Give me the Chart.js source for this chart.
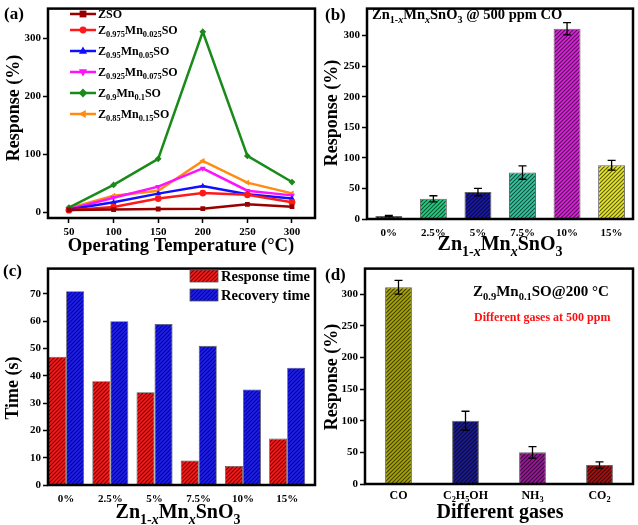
<!DOCTYPE html>
<html><head><meta charset="utf-8">
<script src="https://cdn.jsdelivr.net/npm/chart.js@4/dist/chart.umd.min.js"></script>
<style>
body{margin:0;background:#fff;width:638px;height:525px;position:relative;overflow:hidden}
canvas{position:absolute;display:block}
</style></head><body>
<canvas id="ca" width="319" height="260" style="left:0;top:0"></canvas>
<canvas id="cb" width="319" height="260" style="left:319px;top:0"></canvas>
<canvas id="cc" width="319" height="265" style="left:0;top:260px"></canvas>
<canvas id="cd" width="319" height="265" style="left:319px;top:260px"></canvas>
<script>
// ---------- DATA ----------
const temps = [50, 100, 150, 200, 250, 300];
const zsoResp     = [4, 4.5, 5.5, 6, 13.5, 9.5];
const z0975Resp   = [3.5, 9, 23.5, 33, 30, 17];
const z095Resp    = [4.5, 17, 32, 45, 31, 23.5];
const z0925Resp   = [5, 25, 44, 75.5, 37, 29];
const z09Resp     = [8, 47, 92, 311, 97, 52];
const z085Resp    = [7, 28.5, 37, 88.5, 51, 32.5];

const dopingLabels = ['0%', '2.5%', '5%', '7.5%', '10%', '15%'];
const coResponse   = [5, 33, 44, 76, 311, 88];
const coRespErr    = [1, 5, 6, 11, 10, 8];

const responseTime = [47, 38, 34, 9, 7, 17];
const recoveryTime = [71, 60, 59, 51, 35, 43];

const gasLabels    = ['CO', 'C2H5OH', 'NH3', 'CO2'];
const gasResponse  = [311, 100, 50, 30];
const gasErr       = [11, 15, 9, 5];

// ---------- HELPERS ----------
const FAM = '"Liberation Serif", "Times New Roman", serif';
Chart.defaults.font.family = FAM;
Chart.defaults.font.weight = 'bold';
Chart.defaults.color = '#000';
Chart.defaults.animation = false;

function fnt(sz, it){ return (it?'italic ':'') + 'bold ' + sz + 'px ' + FAM; }
function richWidth(ctx, segs, size){
  let w = 0;
  for (const [t, f=''] of segs){
    const sub = f.includes('s'); const sz = sub ? size*0.7 : size;
    ctx.font = fnt(sz, f.includes('i')); w += ctx.measureText(t).width;
  }
  return w;
}
function drawRich(ctx, segs, x, y, size, align, color){
  const w = richWidth(ctx, segs, size);
  let cx = align === 'center' ? x - w/2 : align === 'right' ? x - w : x;
  ctx.fillStyle = color || '#000'; ctx.textBaseline = 'alphabetic'; ctx.textAlign = 'left';
  for (const [t, f=''] of segs){
    const sub = f.includes('s'); const sz = sub ? size*0.7 : size;
    ctx.font = fnt(sz, f.includes('i'));
    ctx.fillText(t, cx, y + (sub ? size*0.28 : 0));
    cx += ctx.measureText(t).width;
  }
}
function drawRotated(ctx, segs, x, y, size){
  ctx.save(); ctx.translate(x, y); ctx.rotate(-Math.PI/2);
  drawRich(ctx, segs, 0, 0, size, 'center'); ctx.restore();
}
function hatch(color){
  const c = document.createElement('canvas'); c.width = c.height = 4;
  const g = c.getContext('2d');
  g.fillStyle = color; g.fillRect(0,0,4,4);
  g.strokeStyle = 'rgba(0,0,0,0.62)'; g.lineWidth = 1.1;
  g.beginPath();
  g.moveTo(0,4); g.lineTo(4,0);
  g.moveTo(-1,1); g.lineTo(1,-1);
  g.moveTo(3,5); g.lineTo(5,3);
  g.stroke();
  return g.createPattern(c, 'repeat');
}
function frame(chart){
  const {ctx, chartArea:a} = chart;
  ctx.save(); ctx.strokeStyle = '#000'; ctx.lineWidth = 2.5;
  ctx.strokeRect(a.left, a.top, a.right - a.left, a.bottom - a.top); ctx.restore();
}
function errBars(chart, vals, errs, half){
  const {ctx, scales:{x, y}} = chart;
  ctx.save(); ctx.strokeStyle = '#000'; ctx.lineWidth = 1.3;
  vals.forEach((v, i) => {
    const px = x.getPixelForValue(i), t = y.getPixelForValue(v + errs[i]), b = y.getPixelForValue(v - errs[i]);
    ctx.beginPath();
    ctx.moveTo(px, t); ctx.lineTo(px, b);
    ctx.moveTo(px - half, t); ctx.lineTo(px + half, t);
    ctx.moveTo(px - half, b); ctx.lineTo(px + half, b);
    ctx.stroke();
  });
  ctx.restore();
}
function drawMarker(ctx, style, x, y, r, color){
  ctx.save(); ctx.fillStyle = color; ctx.beginPath();
  if (style === 'rect') ctx.rect(x - r, y - r, 2*r, 2*r);
  else if (style === 'circle') ctx.arc(x, y, r, 0, Math.PI*2);
  else if (style === 'rectRot'){ ctx.moveTo(x, y-r*1.3); ctx.lineTo(x+r*1.3, y); ctx.lineTo(x, y+r*1.3); ctx.lineTo(x-r*1.3, y); }
  else {
    const rot = style === 'tri' ? 0 : style === 'triDown' ? 180 : -90;
    ctx.translate(x, y); ctx.rotate(rot*Math.PI/180);
    ctx.moveTo(0, -r*1.3); ctx.lineTo(r*1.2, r*0.8); ctx.lineTo(-r*1.2, r*0.8);
  }
  ctx.closePath(); ctx.fill(); ctx.restore();
}
function axisX(min, max, tickVals, labelFn, opts){
  return Object.assign({
    type: 'linear', min, max, offset: false,
    afterBuildTicks: s => { s.ticks = tickVals.map(v => ({value: v})); },
    ticks: {autoSkip: false, maxRotation: 0, font: {size: 11, weight: 'bold'}, color: '#000', callback: labelFn, padding: 3},
    grid: {display: true, drawOnChartArea: false, tickLength: 5, tickWidth: 1.5, tickColor: '#000'},
    border: {display: false}
  }, opts || {});
}
function axisY(min, max, tickVals, opts){
  return Object.assign({
    type: 'linear', min, max,
    afterBuildTicks: s => { s.ticks = tickVals.map(v => ({value: v})); },
    ticks: {font: {size: 11, weight: 'bold'}, color: '#000', padding: 2},
    grid: {display: true, drawOnChartArea: false, tickLength: 5, tickWidth: 1.5, tickColor: '#000'},
    border: {display: false}
  }, opts || {});
}
const barGrid = {display: false, drawTicks: false, offset: false};

// ---------- (a) ----------
const aSeries = [
  {name: [['ZSO']], data: zsoResp, color: '#990000', ps: 'rect', rot: 0, mk: 'rect'},
  {name: [['Z'],['0.975','s'],['Mn'],['0.025','s'],['SO']], data: z0975Resp, color: '#ff1a1a', ps: 'circle', rot: 0, mk: 'circle'},
  {name: [['Z'],['0.95','s'],['Mn'],['0.05','s'],['SO']], data: z095Resp, color: '#1010ff', ps: 'triangle', rot: 0, mk: 'tri'},
  {name: [['Z'],['0.925','s'],['Mn'],['0.075','s'],['SO']], data: z0925Resp, color: '#ff10ff', ps: 'triangle', rot: 180, mk: 'triDown'},
  {name: [['Z'],['0.9','s'],['Mn'],['0.1','s'],['SO']], data: z09Resp, color: '#1a8a1a', ps: 'rectRot', rot: 0, mk: 'rectRot'},
  {name: [['Z'],['0.85','s'],['Mn'],['0.15','s'],['SO']], data: z085Resp, color: '#ff8c10', ps: 'triangle', rot: -90, mk: 'triLeft'}
];
(function(){
  const L = 48, R = 315, T = 3, B = 218, W = 319, H = 260;
  new Chart(document.getElementById('ca'), {
    type: 'line',
    data: {datasets: aSeries.map(s => ({
      data: temps.map((t, i) => ({x: t, y: s.data[i]})),
      borderColor: s.color, backgroundColor: s.color, borderWidth: 2.5,
      pointStyle: s.ps, pointRotation: s.rot, pointRadius: 3.4, pointBorderWidth: 0, tension: 0
    }))},
    options: {
      responsive: false, events: [],
      layout: {autoPadding: false, padding: {left: 0, top: T, right: W - R, bottom: 0}},
      plugins: {legend: {display: false}, tooltip: {enabled: false}},
      scales: {
        x: axisX(26.5, 325.8, temps, v => v, {afterFit: s => { s.height = H - B; }}),
        y: axisY(-10, 351, [0, 100, 200, 300], {afterFit: s => { s.width = L; }})
      }
    },
    plugins: [{id: 'decoA', afterDraw(chart){
      const ctx = chart.ctx; frame(chart);
      drawRich(ctx, [['(a)']], 4, 19, 17, 'left');
      drawRotated(ctx, [['Response (%)']], 19, 108, 18);
      drawRich(ctx, [['Operating Temperature (°C)']], 181, 251, 18.5, 'center');
      const ys = [14, 30, 51, 72, 93, 114];
      aSeries.forEach((s, i) => {
        ctx.save(); ctx.strokeStyle = s.color; ctx.lineWidth = 2.5;
        ctx.beginPath(); ctx.moveTo(70, ys[i]); ctx.lineTo(96, ys[i]); ctx.stroke(); ctx.restore();
        drawMarker(ctx, s.mk, 83, ys[i], 3.4, s.color);
        drawRich(ctx, s.name, 98, ys[i] + 4, 12, 'left');
      });
    }}]
  });
})();

// ---------- (b) ----------
(function(){
  const L = 48, R = 314, T = 3, B = 219, W = 319, H = 260;
  const cols = ['#e01010', '#20d080', '#1818b0', '#30c8a0', '#e020e0', '#e8e820'].map(hatch);
  new Chart(document.getElementById('cb'), {
    type: 'bar',
    data: {datasets: [{
      data: coResponse.map((v, i) => ({x: i, y: v})),
      backgroundColor: cols, borderColor: '#666', borderWidth: 1,
      barPercentage: 0.605, categoryPercentage: 1
    }]},
    options: {
      responsive: false, events: [],
      layout: {autoPadding: false, padding: {left: 0, top: T, right: W - R, bottom: 0}},
      plugins: {legend: {display: false}, tooltip: {enabled: false}},
      scales: {
        x: axisX(-0.49, 5.48, [0,1,2,3,4,5], v => dopingLabels[v],
          {grid: barGrid, ticks: {autoSkip: false, maxRotation: 0, font: {size: 11, weight: 'bold'}, color: '#000', padding: 8, callback: v => dopingLabels[v]},
           afterFit: s => { s.height = H - B; }}),
        y: axisY(0, 344, [0, 50, 100, 150, 200, 250, 300], {afterFit: s => { s.width = L; }})
      }
    },
    plugins: [{id: 'decoB', afterDraw(chart){
      const ctx = chart.ctx;
      errBars(chart, coResponse, coRespErr, 4);
      frame(chart);
      drawRich(ctx, [['(b)']], 6, 20, 17, 'left');
      drawRotated(ctx, [['Response (%)']], 18, 113, 18);
      drawRich(ctx, [['Zn'],['1-','s'],['x','si'],['Mn'],['x','si'],['SnO'],['3','s'],[' @ 500 ppm CO']], 53, 19, 14.5, 'left');
      drawRich(ctx, [['Zn'],['1-','s'],['x','si'],['Mn'],['x','si'],['SnO'],['3','s']], 181, 250, 20, 'center');
    }}]
  });
})();

// ---------- (c) ----------
const cRed = hatch('#ff1818'), cBlue = hatch('#1c1cff');
(function(){
  const L = 48, R = 315, T = 3, B = 225, W = 319, H = 265;
  new Chart(document.getElementById('cc'), {
    type: 'bar',
    data: {datasets: [
      {data: responseTime.map((v, i) => ({x: i, y: v})), backgroundColor: cRed, borderColor: '#555', borderWidth: 0.8, barPercentage: 1, categoryPercentage: 0.815},
      {data: recoveryTime.map((v, i) => ({x: i, y: v})), backgroundColor: cBlue, borderColor: '#555', borderWidth: 0.8, barPercentage: 1, categoryPercentage: 0.815}
    ]},
    options: {
      responsive: false, events: [],
      layout: {autoPadding: false, padding: {left: 0, top: T, right: W - R, bottom: 0}},
      plugins: {legend: {display: false}, tooltip: {enabled: false}},
      scales: {
        x: axisX(-0.41, 5.63, [0,1,2,3,4,5], v => dopingLabels[v],
          {grid: barGrid, ticks: {autoSkip: false, maxRotation: 0, font: {size: 11, weight: 'bold'}, color: '#000', padding: 8, callback: v => dopingLabels[v]},
           afterFit: s => { s.height = H - B; }}),
        y: axisY(0, 79.3, [0, 10, 20, 30, 40, 50, 60, 70], {afterFit: s => { s.width = L; }})
      }
    },
    plugins: [{id: 'decoC', afterDraw(chart){
      const ctx = chart.ctx; frame(chart);
      drawRich(ctx, [['(c)']], 3, 16, 17, 'left');
      drawRotated(ctx, [['Time (s)']], 18, 128, 18);
      drawRich(ctx, [['Zn'],['1-','s'],['x','si'],['Mn'],['x','si'],['SnO'],['3','s']], 178, 258, 20, 'center');
      [[cRed, 'Response time', 10], [cBlue, 'Recovery time', 29]].forEach(([p, t, y]) => {
        ctx.save(); ctx.fillStyle = p; ctx.fillRect(190, y, 28, 12);
        ctx.strokeStyle = '#555'; ctx.lineWidth = 0.8; ctx.strokeRect(190, y, 28, 12); ctx.restore();
        drawRich(ctx, [[t]], 221, y + 11, 14.5, 'left');
      });
    }}]
  });
})();

// ---------- (d) ----------
const gasSegs = [[['CO']], [['C'],['2','s'],['H'],['5','s'],['OH']], [['NH'],['3','s']], [['CO'],['2','s']]];
(function(){
  const L = 46, R = 314, T = 3, B = 224, W = 319, H = 265;
  const cols = ['#a8a400', '#1a1a98', '#9a189a', '#a81010'].map(hatch);
  new Chart(document.getElementById('cd'), {
    type: 'bar',
    data: {datasets: [{
      data: gasResponse.map((v, i) => ({x: i, y: v})),
      backgroundColor: cols, borderColor: '#666', borderWidth: 1,
      barPercentage: 0.40, categoryPercentage: 1
    }]},
    options: {
      responsive: false, events: [],
      layout: {autoPadding: false, padding: {left: 0, top: T, right: W - R, bottom: 0}},
      plugins: {legend: {display: false}, tooltip: {enabled: false}},
      scales: {
        x: axisX(-0.5, 3.5, [0,1,2,3], v => '',
          {grid: barGrid, ticks: {display: false},
           afterFit: s => { s.height = H - B; }}),
        y: axisY(0, 340.5, [0, 50, 100, 150, 200, 250, 300], {afterFit: s => { s.width = L; }})
      }
    },
    plugins: [{id: 'decoD', afterDraw(chart){
      const ctx = chart.ctx;
      errBars(chart, gasResponse, gasErr, 4);
      frame(chart);
      const xs = chart.scales.x;
      gasSegs.forEach((sg, i) => drawRich(ctx, sg, xs.getPixelForValue(i), 239, 12, 'center'));
      drawRich(ctx, [['(d)']], 6, 20, 17, 'left');
      drawRotated(ctx, [['Response (%)']], 18, 117, 18);
      drawRich(ctx, [['Different gases']], 181, 258, 20, 'center');
      drawRich(ctx, [['Z'],['0.9','s'],['Mn'],['0.1','s'],['SO@200 °C']], 154, 36, 15, 'left');
      drawRich(ctx, [['Different gases at 500 ppm']], 155, 61, 12, 'left', '#ff1010');
    }}]
  });
})();
</script>
</body></html>
